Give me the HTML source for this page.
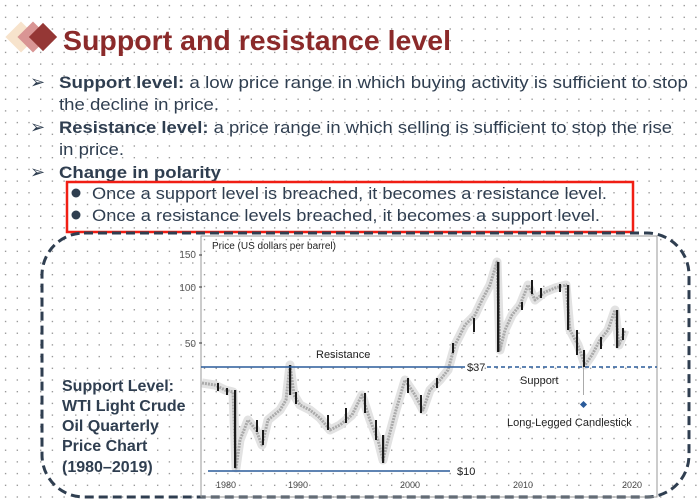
<!DOCTYPE html>
<html><head><meta charset="utf-8"><style>
html,body{margin:0;padding:0;background:#fff;}
svg{display:block;}
</style></head><body>
<svg width="698" height="503" viewBox="0 0 698 503" xmlns="http://www.w3.org/2000/svg" font-family="Liberation Sans, sans-serif">
<defs>
<pattern id="dots" width="11.7" height="11.7" patternUnits="userSpaceOnUse">
<rect x="5" y="5" width="1.2" height="1.2" fill="#555"/>
</pattern>
</defs>
<rect width="698" height="503" fill="#fff"/>
<rect width="698" height="503" fill="url(#dots)" opacity="0.8"/>
<rect x="10" y="26" width="22" height="22" fill="#f7e3cc" transform="rotate(45 21 37)"/>
<rect x="22" y="26" width="22" height="22" fill="#d99594" transform="rotate(45 33 37)"/>
<rect x="33" y="27" width="20" height="20" fill="#953735" transform="rotate(45 43 37)"/>
<text x="63" y="50" font-size="28" font-weight="bold" fill="#8b2a2a" textLength="388" lengthAdjust="spacingAndGlyphs">Support and resistance level</text>
<g fill="#2f3e50" font-size="17">
<text x="30" y="88" font-size="18">➢</text>
<text x="59" y="88" textLength="629" lengthAdjust="spacingAndGlyphs"><tspan font-weight="bold">Support level:</tspan> a low price range in which buying activity is sufficient to stop</text>
<text x="59" y="110" textLength="160" lengthAdjust="spacingAndGlyphs">the decline in price.</text>
<text x="30" y="133" font-size="18">➢</text>
<text x="59" y="133" textLength="613" lengthAdjust="spacingAndGlyphs"><tspan font-weight="bold">Resistance level:</tspan> a price range in which selling is sufficient to stop the rise</text>
<text x="59" y="155" textLength="65" lengthAdjust="spacingAndGlyphs">in price.</text>
<text x="30" y="178" font-size="18">➢</text>
<text x="59" y="178" font-weight="bold" textLength="162" lengthAdjust="spacingAndGlyphs">Change in polarity</text>
<circle cx="76" cy="193" r="4.5"/>
<text x="92" y="199" textLength="515" lengthAdjust="spacingAndGlyphs">Once a support level is breached, it becomes a resistance level.</text>
<circle cx="76" cy="215" r="4.5"/>
<text x="92" y="221" textLength="508" lengthAdjust="spacingAndGlyphs">Once a resistance levels breached, it becomes a support level.</text>
</g>
<rect x="67" y="182" width="566" height="50" fill="none" stroke="#f01e14" stroke-width="2.5"/>
<rect x="42" y="233" width="647" height="264" rx="42" fill="none" stroke="#2f3e50" stroke-width="3" stroke-dasharray="9 5"/>
<rect x="201" y="236" width="456" height="261" fill="none" stroke="#999" stroke-width="1"/>
<g font-size="10" fill="#555">
<text x="196" y="258" text-anchor="end">150</text>
<text x="196" y="291" text-anchor="end">100</text>
<text x="196" y="347" text-anchor="end">50</text>
</g>
<g stroke="#333"><line x1="199" y1="255" x2="202" y2="255"/><line x1="199" y1="287" x2="202" y2="287"/><line x1="199" y1="343" x2="202" y2="343"/></g>
<text x="212" y="249" font-size="10" fill="#222">Price (US dollars per barrel)</text>
<!-- price trace -->
<polyline fill="none" stroke="#e2e2e2" stroke-width="9" stroke-linejoin="round" points="202,383 215,385 225,390 233,392 236,468 240,440 248,420 256,430 262,445 268,420 280,410 286,400 290,365 294,395 300,405 310,410 320,418 330,430 340,425 352,415 362,395 370,420 378,440 383,460 388,440 396,410 405,380 415,395 423,410 430,390 440,380 448,370 455,345 465,325 475,315 482,300 490,285 497,262 500,350 505,330 512,315 520,305 528,285 535,300 545,292 555,288 566,285 570,330 578,345 585,365 592,355 600,340 608,330 615,310 619,345 625,330"/>
<polyline fill="none" stroke="#aaa" stroke-width="3" stroke-dasharray="2 1" stroke-linejoin="round" points="202,383 215,385 225,390 233,392 236,468 240,440 248,420 256,430 262,445 268,420 280,410 286,400 290,365 294,395 300,405 310,410 320,418 330,430 340,425 352,415 362,395 370,420 378,440 383,460 388,440 396,410 405,380 415,395 423,410 430,390 440,380 448,370 455,345 465,325 475,315 482,300 490,285 497,262 500,350 505,330 512,315 520,305 528,285 535,300 545,292 555,288 566,285 570,330 578,345 585,365 592,355 600,340 608,330 615,310 619,345 625,330"/>
<g fill="#1a1a1a">
<rect x="234" y="390" width="2.2" height="78"/>
<rect x="217" y="383" width="2" height="8"/>
<rect x="226" y="388" width="2" height="7"/>
<rect x="256" y="420" width="2" height="12"/>
<rect x="262" y="430" width="2" height="15"/>
<rect x="289" y="365" width="2.2" height="30"/>
<rect x="295" y="392" width="2" height="12"/>
<rect x="327" y="415" width="2" height="15"/>
<rect x="345" y="408" width="2" height="15"/>
<rect x="364" y="393" width="2" height="20"/>
<rect x="375" y="420" width="2" height="20"/>
<rect x="382" y="435" width="2.2" height="28"/>
<rect x="407" y="378" width="2" height="15"/>
<rect x="420" y="395" width="2" height="18"/>
<rect x="436" y="378" width="2" height="10"/>
<rect x="452" y="343" width="2" height="10"/>
<rect x="473" y="318" width="2" height="14"/>
<rect x="497" y="262" width="2.4" height="90"/>
<rect x="521" y="302" width="2" height="8"/>
<rect x="531" y="280" width="2" height="14"/>
<rect x="540" y="288" width="2" height="10"/>
<rect x="559" y="284" width="2" height="8"/>
<rect x="567" y="285" width="2.2" height="45"/>
<rect x="576" y="330" width="2" height="25"/>
<rect x="583" y="350" width="2" height="17"/>
<rect x="600" y="337" width="2" height="12"/>
<rect x="616" y="310" width="2.2" height="38"/>
<rect x="622" y="328" width="2" height="12"/>
</g>
<line x1="583.5" y1="367" x2="583.5" y2="395" stroke="#aaa" stroke-width="1"/>
<line x1="201" y1="367" x2="465" y2="367" stroke="#2a5b9a" stroke-width="1.5"/>
<line x1="487" y1="367" x2="657" y2="367" stroke="#2a5b9a" stroke-width="1.5" stroke-dasharray="4 3"/>
<text x="467" y="371" font-size="11" fill="#222">$37</text>
<line x1="208" y1="471" x2="450" y2="471" stroke="#2a5b9a" stroke-width="1.5"/>
<text x="457" y="475" font-size="11" fill="#222">$10</text>
<text x="316" y="358" font-size="11" fill="#222">Resistance</text>
<text x="520" y="384" font-size="11" fill="#222">Support</text>
<rect x="581" y="402" width="5" height="5" fill="#2a5b9a" transform="rotate(45 583.5 404.5)"/>
<text x="507" y="426" font-size="11" fill="#222">Long-Legged Candlestick</text>
<g font-size="9" fill="#444" text-anchor="middle">
<text x="226" y="488">1980</text><text x="298" y="488">1990</text><text x="410" y="488">2000</text><text x="523" y="488">2010</text><text x="632" y="488">2020</text>
</g>
<g fill="#2f3e50" font-size="16" font-weight="bold">
<text x="62" y="391">Support Level:</text>
<text x="62" y="411">WTI Light Crude</text>
<text x="62" y="431">Oil Quarterly</text>
<text x="62" y="451">Price Chart</text>
<text x="62" y="472">(1980–2019)</text>
</g>
</svg>
</body></html>
